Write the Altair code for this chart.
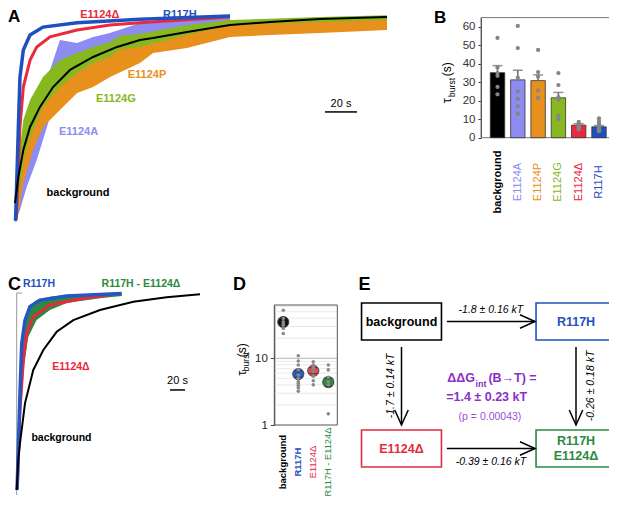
import altair as alt
import pandas as pd

FONT = "Liberation Sans"

# ---------------- colours ----------------
BLACK, LAV, ORG, GRN, RED, BLU = "#000000", "#8c8cf2", "#e8901c", "#88b820", "#e82a3c", "#1f50c0"
DGRN, PURP = "#2a8a40", "#8a2fc8"

# ---------------- Panel A : normalised current traces (t in s, relative amplitude) ----------------
A_BG_T = [0, 2.1, 5.2, 9.4, 15.6, 23.8, 34.4, 48.8, 63.8, 78.1, 86.3, 107.5, 134.4, 159.4, 190.6, 232.5]
A_BG_V = [0.105, 0.230, 0.359, 0.469, 0.565, 0.660, 0.742, 0.804, 0.852, 0.885, 0.895, 0.923, 0.957, 0.971, 0.986, 0.995]

A_R117H_T = [0.3, 0.6, 2.1, 3.1, 5.2, 9.4, 17.5, 38.8, 78.1, 134.4]
A_R117H_V = [0.02, 0.08, 0.469, 0.708, 0.837, 0.909, 0.947, 0.968, 0.984, 1.0]

A_DEL_T = [0.8, 1.1, 3.1, 5.2, 9.4, 13.6, 21.9, 38.8, 59.4, 78.1, 134.4]
A_DEL_V = [0.03, 0.072, 0.469, 0.660, 0.789, 0.852, 0.900, 0.933, 0.957, 0.968, 0.995]

A_G_T = [1.1, 5.2, 9.4, 17.5, 28.1, 38.8, 48.8, 59.4, 65.6, 78.1, 107.5, 134.4, 190.6, 232.5]
A_G_HI = [0.230, 0.502, 0.598, 0.708, 0.789, 0.823, 0.852, 0.876, 0.905, 0.915, 0.957, 0.981, 0.995, 1.003]
A_G_LO = [0.038, 0.311, 0.421, 0.565, 0.660, 0.727, 0.775, 0.804, 0.840, 0.852, 0.909, 0.957, 0.971, 0.981]

A_P_T = [1.1, 5.2, 11.3, 17.5, 28.1, 38.8, 48.8, 59.4, 78.1, 86.3, 107.5, 134.4, 159.4, 190.6, 232.5]
A_P_HI = [0.201, 0.421, 0.565, 0.646, 0.742, 0.789, 0.828, 0.852, 0.885, 0.909, 0.933, 0.967, 0.971, 0.981, 0.990]
A_P_LO = [0.010, 0.201, 0.359, 0.469, 0.550, 0.632, 0.660, 0.708, 0.775, 0.823, 0.847, 0.900, 0.909, 0.919, 0.933]

A_A_T = [0, 3.1, 7.3, 13.6, 21.9, 28.1, 38.8, 48.8, 59.4, 78.1, 107.5, 134.4]
A_A_HI = [0.134, 0.359, 0.469, 0.632, 0.742, 0.885, 0.871, 0.900, 0.919, 0.967, 0.981, 0.990]
A_A_LO = [0.010, 0.072, 0.182, 0.311, 0.517, 0.632, 0.646, 0.708, 0.823, 0.900, 0.933, 0.957]

A_LABELS = ["E1124Δ", "R117H", "E1124P", "E1124G", "E1124A", "background"]
A_LABEL_T = [53, 103, 82.5, 63, 39.7, 39.4]
A_LABEL_V = [1.0045, 1.0045, 0.718, 0.603, 0.445, 0.153]
A_LABEL_C = [RED, BLU, ORG, GRN, LAV, BLACK]
A_BAR = [193.75, 213.75, 0.541]  # 20 s scale bar: start, end, level

# ---------------- Panel B : tau_burst bar chart ----------------
B_CATS = ["background", "E1124A", "E1124P", "E1124G", "E1124Δ", "R117H"]
B_COLS = [BLACK, LAV, ORG, GRN, RED, BLU]
B_BOLD = [True, False, False, False, False, False]
B_MEAN = [35.2, 31.3, 30.9, 21.6, 6.8, 5.9]
B_UP = [39.0, 36.5, 34.0, 24.5, 7.6, 6.6]
B_PTS = {
    "background": [54, 38, 35, 33.5, 27.5, 23.5],
    "E1124A": [60.5, 48.5, 32.5, 25, 21, 17, 13],
    "E1124P": [47.5, 35.5, 33, 25.5, 21.5],
    "E1124G": [35, 28.5, 22, 20.5, 12, 10],
    "E1124Δ": [8.5, 7.5, 7, 6.5, 6, 5.5, 5, 4.5],
    "R117H": [10.5, 9, 8, 7, 6.5, 6, 5, 4.5, 4, 3.5],
}
B_TICKS = [0, 10, 20, 30, 40, 50, 60]

# ---------------- Panel C : traces ----------------
C_BG_T = [0, 2.1, 4.4, 11.1, 22.1, 35.5, 53.3, 75.5, 111, 155.5, 200, 244.4]
C_BG_V = [0.025, 0.173, 0.257, 0.455, 0.619, 0.718, 0.808, 0.866, 0.916, 0.957, 0.979, 0.994]
C_R_T = [0.5, 4.4, 6.7, 11.1, 17.7, 31, 66.7, 140]
C_R_V = [0.025, 0.503, 0.751, 0.866, 0.932, 0.965, 0.985, 0.998]
C_D_T = [0.8, 4.4, 8.9, 13.3, 22.1, 44.4, 88.8, 124.4]
C_D_V = [0.03, 0.421, 0.668, 0.800, 0.883, 0.941, 0.974, 0.990]
C_RD_T = [1.0, 4.4, 8.9, 15.5, 26.6, 44.4, 66.7, 111, 140]
C_RD_HI = [0.10, 0.536, 0.833, 0.932, 0.965, 0.982, 0.990, 0.998, 0.998]
C_RD_LO = [0.02, 0.338, 0.619, 0.784, 0.866, 0.916, 0.950, 0.974, 0.985]
C_LABELS = ["R117H", "R117H - E1124Δ", "E1124Δ", "background"]
C_LABEL_T = [29.7, 165.7, 72.4, 59.7]
C_LABEL_V = [1.045, 1.045, 0.634, 0.284]
C_LABEL_C = [BLU, DGRN, RED, BLACK]
C_BAR = [204.4, 224.4, 0.52]

# ---------------- Panel D : log-scale tau_burst ----------------
D_CATS = ["background", "R117H", "E1124Δ", "R117H - E1124Δ"]
D_COLS = ["#111111", "#2a5cd0", "#e64a50", DGRN]
D_LABEL_C = [BLACK, BLU, RED, DGRN]
D_BOLD = [True, True, False, False]
D_MEAN = [35, 5.8, 6.5, 4.4]
D_LO = [31, 5.2, 5.9, 3.8]
D_HI = [39, 6.5, 7.2, 5.1]
D_PTS = {
    "background": [52.6, 39.5, 35.2, 33, 31.4, 28, 23.6],
    "R117H": [10.9, 9.1, 7.95, 6.7, 5.6, 5.0, 4.5, 4.2, 3.9, 3.6, 3.2],
    "E1124Δ": [8.9, 7.95, 7.1, 6.3, 5.4, 4.6, 4.0],
    "R117H - E1124Δ": [7.95, 6.7, 5.2, 4.5, 4.0, 1.47],
}
D_GRID = [2, 3, 4, 5, 6, 7, 8, 9, 20, 30, 40, 50, 60]

# ---------------- Panel E : thermodynamic cycle ----------------
E_NODES = ["background", "R117H", "E1124Δ", "R117H\nE1124Δ"]
E_COL = [0, 1, 0, 1]
E_ROW = [0, 0, 1, 1]
E_NODE_C = [BLACK, BLU, RED, DGRN]
E_EDGES = [(0, 1, "-1.8 ± 0.16 kT"), (0, 2, "-1.7 ± 0.14 kT"),
           (1, 3, "-0.26 ± 0.18 kT"), (2, 3, "-0.39 ± 0.16 kT")]

# ================= scales (each panel gets its own pixel region) =================
def qs(dom, rng, **kw):
    return alt.Scale(domain=dom, range=rng, nice=False, zero=False, **kw)

SAX, SAY = qs([0, 232.5], [7, 379]), qs([0, 1], [217, 8])
SCX, SCY = qs([0, 244.4], [8.7, 192]), qs([0, 1], [487, 285])
SBX = alt.Scale(type="band", domain=B_CATS, range=[473, 607.5], paddingInner=0.29, paddingOuter=0.458)
SBF = qs([0, 1], [473, 609])
SBY = qs([0, 65], [129.7, 9.6])
SDX = alt.Scale(type="point", domain=D_CATS, range=[266.3, 329.3], padding=0.6)
SDF = qs([0, 1], [266.3, 329.3])
SDY = alt.Scale(type="log", domain=[1, 63], range=[417, 297], nice=False)
SEX, SEY = qs([0, 1], [393.5, 568]), qs([0, 1], [313.5, 440.5])


def X(f, s, t="quantitative", **kw):
    return alt.X(f, type=t, scale=s, axis=kw.pop("axis", None), **kw)


def Y(f, s, t="quantitative", **kw):
    return alt.Y(f, type=t, scale=s, axis=kw.pop("axis", None), **kw)


def texts(xs, ys, labels, colors, sx, sy, xt="quantitative", **mk):
    df = pd.DataFrame({"x": xs, "y": ys, "label": labels, "c": colors})
    props = dict(font=FONT)
    props.update(mk)
    return alt.Chart(df).mark_text(**props).encode(
        x=X("x", sx, xt), y=Y("y", sy), text="label:N", color=alt.Color("c:N", scale=None))


def pick(seq, mask, want=True):
    return [s for s, m in zip(seq, mask) if m == want]


layers = []

# ---------------- Panel A ----------------
def band(t, lo, hi, color, sx, sy):
    df = pd.DataFrame({"t": t, "lo": lo, "hi": hi})
    return alt.Chart(df).mark_area(color=color, opacity=1).encode(
        x=X("t", sx), y=Y("lo", sy), y2="hi:Q")


def line(t, v, color, w, sx, sy):
    df = pd.DataFrame({"t": t, "v": v})
    return alt.Chart(df).mark_line(color=color, strokeWidth=w).encode(x=X("t", sx), y=Y("v", sy))


layers += [
    band(A_A_T, A_A_LO, A_A_HI, LAV, SAX, SAY),
    band(A_P_T, A_P_LO, A_P_HI, ORG, SAX, SAY),
    band(A_G_T, A_G_LO, A_G_HI, GRN, SAX, SAY),
    line(A_DEL_T, A_DEL_V, RED, 3, SAX, SAY),
    line(A_R117H_T, A_R117H_V, BLU, 3.5, SAX, SAY),
    line(A_BG_T, A_BG_V, BLACK, 2, SAX, SAY),
    texts(A_LABEL_T, A_LABEL_V, A_LABELS, A_LABEL_C, SAX, SAY, fontSize=11, fontWeight="bold"),
    alt.Chart(pd.DataFrame({"t0": [A_BAR[0]], "t1": [A_BAR[1]], "v": [A_BAR[2]]})).mark_rule(
        color="black", strokeWidth=1.5).encode(x=X("t0", SAX), x2="t1:Q", y=Y("v", SAY)),
    texts([(A_BAR[0] + A_BAR[1]) / 2], [A_BAR[2] + 0.04], ["20 s"], ["black"], SAX, SAY, fontSize=11),
    texts([-4.4], [0.995], ["A"], ["black"], SAX, SAY, fontSize=17, fontWeight="bold", align="left",
          baseline="middle"),
]

# ---------------- Panel B ----------------
b_df = pd.DataFrame({"cat": B_CATS, "mean": B_MEAN, "up": B_UP, "c": B_COLS})
b_pts = pd.DataFrame([(k, v) for k, vs in B_PTS.items() for v in vs], columns=["cat", "val"])
B_LAB_Y = -24
layers += [
    alt.Chart(pd.DataFrame({"x0": [0], "x1": [1], "y0": [0], "y1": [65]})).mark_rect(
        fillOpacity=0, stroke="#777", strokeWidth=1).encode(
        x=X("x0", SBF), x2="x1:Q", y=Y("y0", SBY), y2="y1:Q"),
    alt.Chart(b_df).mark_bar(stroke="#333", strokeWidth=0.8).encode(
        x=X("cat", SBX, "nominal"),
        y=Y("mean", SBY, axis=alt.Axis(orient="left", offset=-473, values=B_TICKS, tickSize=3,
                                        labelPadding=3, labelFontSize=11.5, labelFont=FONT,
                                        labelColor="#333", domainColor="#333", tickColor="#333",
                                        grid=False, title=None)),
        color=alt.Color("c:N", scale=None)),
    alt.Chart(b_df).mark_rule(color="#666", strokeWidth=1.5).encode(
        x=X("cat", SBX, "nominal"), y=Y("mean", SBY), y2="up:Q"),
    alt.Chart(b_df).mark_tick(color="#666", size=10, thickness=1.5).encode(
        x=X("cat", SBX, "nominal"), y=Y("up", SBY)),
    alt.Chart(b_pts).mark_circle(size=18, color="#858585", opacity=1).encode(
        x=X("cat", SBX, "nominal"), y=Y("val", SBY)),
    texts(pick(B_CATS, B_BOLD, False), [B_LAB_Y] * 5, pick(B_CATS, B_BOLD, False),
          pick(B_COLS, B_BOLD, False), SBX, SBY, xt="nominal", fontSize=11, angle=270, baseline="middle"),
    texts(pick(B_CATS, B_BOLD), [B_LAB_Y], pick(B_CATS, B_BOLD), pick(B_COLS, B_BOLD), SBX, SBY,
          xt="nominal", fontSize=11, fontWeight="bold", angle=270, baseline="middle"),
    texts([-0.25], [20.0], ["τ"], ["black"], SBF, SBY, fontSize=13, angle=270, baseline="middle"),
    texts([-0.215], [27.2], ["burst"], ["black"], SBF, SBY, fontSize=8.5, angle=270, baseline="middle"),
    texts([-0.25], [37], ["(s)"], ["black"], SBF, SBY, fontSize=12, angle=270, baseline="middle"),
    texts([-0.30], [64.9], ["B"], ["black"], SBF, SBY, fontSize=17, fontWeight="bold", baseline="middle"),
]

# ---------------- Panel C ----------------
layers += [
    alt.Chart(pd.DataFrame({"t": [0], "v0": [0.0], "v1": [1.0]})).mark_rule(
        color="#999", strokeWidth=1).encode(x=X("t", SCX), y=Y("v0", SCY), y2="v1:Q"),
    alt.Chart(pd.DataFrame({"t0": [0], "t1": [7], "v": [1.0]})).mark_rule(
        color="#999", strokeWidth=1).encode(x=X("t0", SCX), x2="t1:Q", y=Y("v", SCY)),
    band(C_RD_T, C_RD_LO, C_RD_HI, DGRN, SCX, SCY),
    line(C_D_T, C_D_V, RED, 3, SCX, SCY),
    line(C_R_T, C_R_V, "#2456c8", 3.5, SCX, SCY),
    line(C_BG_T, C_BG_V, BLACK, 2, SCX, SCY),
    texts(C_LABEL_T, C_LABEL_V, C_LABELS, C_LABEL_C, SCX, SCY, fontSize=10.5, fontWeight="bold"),
    alt.Chart(pd.DataFrame({"t0": [C_BAR[0]], "t1": [C_BAR[1]], "v": [C_BAR[2]]})).mark_rule(
        color="black", strokeWidth=1.5).encode(x=X("t0", SCX), x2="t1:Q", y=Y("v", SCY)),
    texts([(C_BAR[0] + C_BAR[1]) / 2], [C_BAR[2] + 0.045], ["20 s"], ["black"], SCX, SCY, fontSize=11),
    texts([-11.6], [1.04], ["C"], ["black"], SCX, SCY, fontSize=18, fontWeight="bold", align="left",
          baseline="middle"),
]

# ---------------- Panel D ----------------
d_df = pd.DataFrame({"cat": D_CATS, "mean": D_MEAN, "lo": D_LO, "hi": D_HI, "c": D_COLS})
d_pts = pd.DataFrame([(k, v) for k, vs in D_PTS.items() for v in vs], columns=["cat", "val"])
grid_df = pd.DataFrame({"g": D_GRID, "x0": 0, "x1": 1})
D_LAB_Y = 0.278
layers += [
    alt.Chart(grid_df).mark_rule(color="#e3e3e3", strokeWidth=0.8).encode(
        x=X("x0", SDF), x2="x1:Q", y=Y("g", SDY)),
    alt.Chart(pd.DataFrame({"g": [10], "x0": [0], "x1": [1]})).mark_rule(
        color="#b5b5b5", strokeWidth=1).encode(x=X("x0", SDF), x2="x1:Q", y=Y("g", SDY)),
    alt.Chart(pd.DataFrame({"x0": [0], "x1": [1], "y0": [1], "y1": [63]})).mark_rect(
        fillOpacity=0, stroke="#555", strokeWidth=1).encode(
        x=X("x0", SDF), x2="x1:Q", y=Y("y0", SDY), y2="y1:Q"),
    alt.Chart(d_df).mark_circle(size=125, stroke="#444", strokeWidth=1, opacity=1).encode(
        x=X("cat", SDX, "nominal"),
        y=Y("mean", SDY, axis=alt.Axis(orient="left", offset=-266.3, values=[1, 10], format="~g",
                                        tickSize=4, labelPadding=3, labelFontSize=11.5,
                                        labelFont=FONT, labelColor="#222", domainColor="#444",
                                        tickColor="#444", grid=False, title=None)),
        color=alt.Color("c:N", scale=None)),
    alt.Chart(d_df).mark_rule(color="#222", strokeWidth=1).encode(
        x=X("cat", SDX, "nominal"), y=Y("lo", SDY), y2="hi:Q"),
    alt.Chart(d_df.melt(id_vars=["cat"], value_vars=["lo", "hi"])).mark_tick(
        color="#222", size=8, thickness=1).encode(x=X("cat", SDX, "nominal"), y=Y("value", SDY)),
    alt.Chart(d_pts).mark_circle(size=13, color="#8a8a8a", opacity=1).encode(
        x=X("cat", SDX, "nominal"), y=Y("val", SDY)),
    texts(pick(D_CATS, D_BOLD, False), [D_LAB_Y] * 2, pick(D_CATS, D_BOLD, False),
          pick(D_LABEL_C, D_BOLD, False), SDX, SDY, xt="nominal", fontSize=9.3, angle=270,
          baseline="middle"),
    texts(pick(D_CATS, D_BOLD), [D_LAB_Y] * 2, pick(D_CATS, D_BOLD), pick(D_LABEL_C, D_BOLD), SDX, SDY,
          xt="nominal", fontSize=9.5, fontWeight="bold", angle=270, baseline="middle"),
    texts([-0.52], [6.0], ["τ"], ["black"], SDF, SDY, fontSize=13, angle=270, baseline="middle"),
    texts([-0.45], [8.9], ["burst"], ["black"], SDF, SDY, fontSize=8.5, angle=270, baseline="middle"),
    texts([-0.52], [13.2], ["(s)"], ["black"], SDF, SDY, fontSize=12, angle=270, baseline="middle"),
    texts([-0.552], [125], ["D"], ["black"], SDF, SDY, fontSize=18, fontWeight="bold", baseline="middle"),
]

# ---------------- Panel E ----------------
HW, HH = 0.229, 0.146           # box half width / half height (diagram units)
LINE_H = 0.118                  # text line height (diagram units)
GAP_S = (0.26, 0.20)            # arrow start gap (horizontal, vertical)
GAP_E = (0.235, 0.185)          # arrow end gap
node_df = pd.DataFrame({"x": E_COL, "y": E_ROW, "label": E_NODES, "c": E_NODE_C})
node_df["x0"], node_df["x1"] = node_df.x - HW, node_df.x + HW
node_df["y0"], node_df["y1"] = node_df.y - HH, node_df.y + HH

line_rows = []
for lab, cx, cy, c in zip(E_NODES, E_COL, E_ROW, E_NODE_C):
    parts = lab.split("\n")
    for i, p in enumerate(parts):
        line_rows.append(dict(x=cx, y=cy + (i - (len(parts) - 1) / 2) * LINE_H, label=p, c=c))
node_lines = pd.DataFrame(line_rows)

edge_rows = []
for s, d, lab in E_EDGES:
    sx_, sy_, dx_, dy_ = E_COL[s], E_ROW[s], E_COL[d], E_ROW[d]
    if sy_ == dy_:  # horizontal
        x0, x1, y0, y1, ang = sx_ + GAP_S[0], dx_ - GAP_E[0], sy_, dy_, 0
        lx, ly, la = (x0 + x1) / 2, sy_ + (-0.09 if sy_ == 0 else 0.104), 0
    else:
        x0, x1, y0, y1, ang = sx_, dx_, sy_ + GAP_S[1], dy_ - GAP_E[1], 90
        lx, ly, la = sx_ + (-0.058 if sx_ == 0 else 0.088), (y0 + y1) / 2, 270
    edge_rows.append(dict(x0=x0, x1=x1, y0=y0, y1=y1, ang=ang, lx=lx, ly=ly, la=la, label=lab))
edge_df = pd.DataFrame(edge_rows)

HEAD = "M-1,-0.45L0,0L-1,0.45"
layers += [
    alt.Chart(node_df).mark_rect(fill="white", strokeWidth=1.6).encode(
        x=X("x0", SEX), x2="x1:Q", y=Y("y0", SEY), y2="y1:Q", stroke=alt.Stroke("c:N", scale=None)),
    alt.Chart(node_lines).mark_text(font=FONT, fontSize=12.5, fontWeight="bold",
                                    baseline="middle").encode(
        x=X("x", SEX), y=Y("y", SEY), text="label:N", color=alt.Color("c:N", scale=None)),
    alt.Chart(edge_df).mark_rule(color="black", strokeWidth=1.5).encode(
        x=X("x0", SEX), x2="x1:Q", y=Y("y0", SEY), y2="y1:Q"),
    alt.Chart(edge_df).mark_point(shape=HEAD, filled=False, size=900, color="black", strokeWidth=1.5,
                                  opacity=1).encode(
        x=X("x1", SEX), y=Y("y1", SEY), angle=alt.Angle("ang:Q", scale=None)),
    alt.Chart(edge_df).mark_text(font=FONT, fontSize=10.5, fontStyle="italic", color="black",
                                 baseline="middle").encode(
        x=X("lx", SEX), y=Y("ly", SEY), text="label:N", angle=alt.Angle("la:Q", scale=None)),
    texts([0.421], [0.447], ["ΔΔG"], [PURP], SEX, SEY, fontSize=12.5, fontWeight="bold", align="right",
          baseline="middle"),
    texts([0.424], [0.49], ["int"], [PURP], SEX, SEY, fontSize=9, fontWeight="bold", align="left",
          baseline="middle"),
    texts([0.498], [0.447], ["(B→T) ="], [PURP], SEX, SEY, fontSize=12.5, fontWeight="bold",
          align="left", baseline="middle"),
    texts([0.488], [0.592], ["=1.4 ± 0.23 kT"], [PURP], SEX, SEY, fontSize=12.5, fontWeight="bold",
          baseline="middle"),
    texts([0.507], [0.75], ["(p = 0.00043)"], ["#9a4fd6"], SEX, SEY, fontSize=10.5, baseline="middle"),
    texts([-0.212], [-0.287], ["E"], ["black"], SEX, SEY, fontSize=18, fontWeight="bold",
          baseline="middle"),
]

chart = alt.layer(*layers).resolve_scale(x="independent", y="independent").properties(
    width=601, height=491, padding=0, autosize="none"
).configure_view(strokeWidth=0)

chart.save("out.html", embed_options={"renderer": "svg", "actions": False})
